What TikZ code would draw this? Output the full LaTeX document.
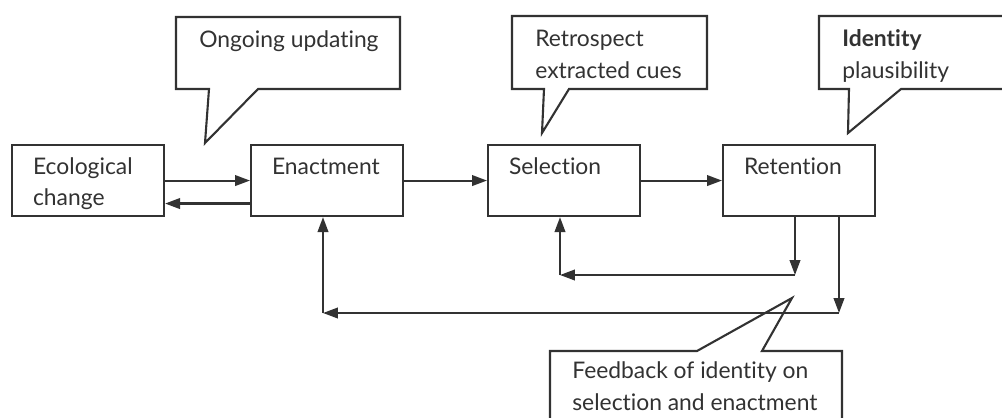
\documentclass[tikz,border=0pt]{standalone}
\usepackage{fontspec}
\setmainfont{Lato}[Ligatures={NoCommon}]
\usetikzlibrary{arrows.meta,positioning}
\definecolor{ink}{RGB}{50,50,50}

\begin{document}
\begin{tikzpicture}[x=0.02cm, y=-0.02cm]
  \tikzstyle{stage}=[rectangle, draw=ink, line width=1.2pt, anchor=north west, text=ink, text width=2.2cm, align=left, inner xsep=0.42cm, inner ysep=0pt, text height=0.58cm, text depth=0.84cm, font=\fontsize{13}{18}\selectfont]
  \tikzstyle{note}=[anchor=base west, inner sep=0pt, align=left, text=ink, font=\fontsize{13}{18}\selectfont]
  \tikzstyle{bubble}=[draw=ink, line width=1.2pt, line join=miter]
  \tikzstyle{flow}=[draw=ink, line width=1.2pt, -{Triangle[length=8.5pt, width=6pt]}]

  \path[use as bounding box, clip] (0,0) rectangle (1002,417);

  % Stufen
  \node[stage] (eco) at (11,144) {Ecological\\change};
  \node[stage] (enact) at (250,144) {Enactment};
  \node[stage] (sel) at (487,144) {Selection};
  \node[stage] (ret) at (722,144) {Retention};

  % Sprechblasen
  \draw[bubble] (176,17) -- (400,17) -- (400,89) -- (258,89) -- (205,143) -- (209,89) -- (176,89) -- cycle;
  \draw[bubble] (512,16) -- (707,16) -- (707,89) -- (569,89) -- (542,133) -- (544,89) -- (512,89) -- cycle;
  \draw[bubble] (819,16) -- (1012,16) -- (1012,89) -- (901,89) -- (848,133) -- (849,89) -- (819,89) -- cycle;
  \draw[bubble] (550,351) -- (697,351) -- (792,298) -- (762,351) -- (842,351) -- (842,430) -- (550,430) -- cycle;

  % base = Grundlinie der letzten Zeile
  \node[note] (upd) at (199,47) {Ongoing updating};
  \node[note] (retro) at (535,78) {Retrospect\\extracted cues};
  \node[note] (ident) at (842,78) {\textbf{Identity}\\plausibility};
  \node[note] (feed) at (572,410) {Feedback of identity on\\selection and enactment};

  % Verbindungen
  \draw[flow] (eco.east) -- (enact.west);
  \draw[flow] ([yshift=-0.46cm]enact.west) -- ([yshift=-0.46cm]eco.east);
  \draw[flow] (enact.east) -- (sel.west);
  \draw[flow] (sel.east) -- (ret.west);

  % Rueckkopplungen
  \coordinate (r1) at (795,275);
  \coordinate (s1) at (560,275);
  \coordinate (r2) at (839,313);
  \coordinate (e2) at (323,313);
  \draw[flow] (ret.south -| r1) -- (r1);
  \draw[flow] (r1) -- (s1);
  \draw[flow] (s1) -- (sel.south -| s1);
  \draw[flow] (ret.south -| r2) -- (r2);
  \draw[flow] (r2) -- (e2);
  \draw[flow] (e2) -- (enact.south -| e2);
\end{tikzpicture}
\end{document}
